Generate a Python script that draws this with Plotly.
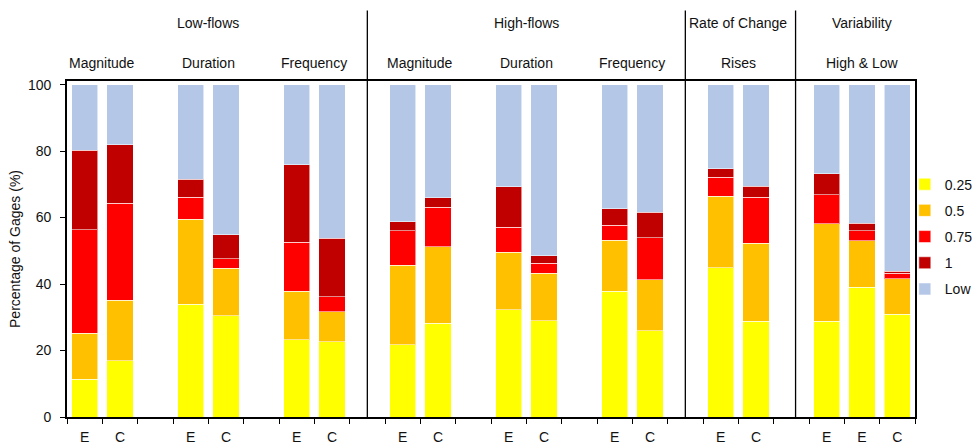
import plotly.graph_objects as go

# 24 slots along the x axis; empty strings are spacer slots between groups
slot_labels = ["E", "C", "", "E", "C", "", "E", "C", "",
               "E", "C", "", "E", "C", "", "E", "C", "",
               "E", "C", "", "E", "E", "C"]

# Percentage of gages in each alteration class (None = spacer slot)
pct_025 = [11.3, 17.0, None, 34.0, 30.5, None, 23.2, 22.7, None,
           21.8, 28.2, None, 32.2, 28.9, None, 37.9, 26.0, None,
           44.9, 28.8, None, 28.8, 39.1, 30.9]
pct_05 = [13.9, 18.1, None, 25.5, 14.3, None, 14.7, 8.9, None,
          23.8, 23.0, None, 17.3, 14.3, None, 15.3, 15.3, None,
          21.5, 23.5, None, 29.3, 14.0, 10.7]
pct_075 = [31.2, 29.2, None, 6.6, 2.8, None, 14.7, 4.6, None,
           10.5, 11.9, None, 7.6, 3.0, None, 4.5, 12.7, None,
           5.7, 13.8, None, 8.8, 3.0, 1.6]
pct_1 = [23.8, 17.6, None, 5.4, 7.2, None, 23.3, 17.6, None,
         2.6, 2.9, None, 12.2, 2.3, None, 5.0, 7.6, None,
         2.6, 3.4, None, 6.3, 2.2, 0.6]
pct_low = [19.8, 18.1, None, 28.5, 45.2, None, 24.1, 46.2, None,
           41.3, 34.0, None, 30.7, 51.5, None, 37.3, 38.4, None,
           25.3, 30.5, None, 26.8, 41.7, 56.2]

series = [("0.25", pct_025, "#FFFF00"),
          ("0.5", pct_05, "#FFC000"),
          ("0.75", pct_075, "#FF0000"),
          ("1", pct_1, "#C00000"),
          ("Low", pct_low, "#B4C7E7")]

# Header rows: (label, centre slot)
group_titles = [("Low-flows", 3.5), ("High-flows", 12.5),
                ("Rate of Change", 18.5), ("Variability", 22.0)]
sub_titles = [("Magnitude", 0.5), ("Duration", 3.5), ("Frequency", 6.5),
              ("Magnitude", 9.5), ("Duration", 12.5), ("Frequency", 15.5),
              ("Rises", 18.5), ("High & Low", 22.0)]
divider_slots = [8.0, 17.0, 20.12]

x = list(range(len(slot_labels)))
bar_x = [i for i, s in enumerate(slot_labels) if s]
bar_text = [s for s in slot_labels if s]

FONT = "Liberation Sans, Arial, sans-serif"

fig = go.Figure()
for name, vals, color in series:
    fig.add_trace(go.Bar(
        x=x, y=vals, name=name, width=0.74,
        legendgroup=name,
        marker=dict(color=color, line=dict(color="rgba(255,255,255,0.55)", width=1)),
    ))

annotations = []
for text, cx in group_titles:
    annotations.append(dict(x=cx, y=1.173, xref="x", yref="paper", text=text,
                            yanchor="middle", xanchor="center",
                            showarrow=False, font=dict(size=14, color="#111")))
for text, cx in sub_titles:
    annotations.append(dict(x=cx, y=1.054, xref="x", yref="paper", text=text,
                            yanchor="middle", xanchor="center",
                            showarrow=False, font=dict(size=14, color="#111")))

shapes = [dict(type="line", xref="x", yref="paper", x0=d, x1=d, y0=0, y1=1.21,
               line=dict(color="black", width=1.3)) for d in divider_slots]

boundaries = [i - 0.5 for i in range(len(slot_labels) + 1)]

fig.update_layout(
    width=978, height=446,
    margin=dict(l=67, r=63, t=81, b=29.3, autoexpand=False),
    barmode="stack", bargap=0.26,
    plot_bgcolor="white", paper_bgcolor="white",
    font=dict(family=FONT, size=14, color="#111"),
    showlegend=True,
    legend=dict(x=0.988, xanchor="left", y=0.537, yanchor="middle",
                traceorder="grouped", tracegroupgap=5,
                font=dict(size=14, color="#111"), bgcolor="rgba(0,0,0,0)",
                itemwidth=30),
    annotations=annotations,
    shapes=shapes,
    xaxis=dict(range=[-0.5, len(slot_labels) - 0.5],
               tickmode="array", tickvals=bar_x, ticktext=bar_text,
               ticks="", showgrid=False, zeroline=False,
               showline=True, linecolor="black", linewidth=1.6, mirror=True,
               tickfont=dict(size=14, color="#111"), ticklabelstandoff=6,
               minor=dict(tickmode="array", tickvals=boundaries, ticks="outside",
                          ticklen=5, tickcolor="black", tickwidth=1, showgrid=False)),
    yaxis=dict(range=[0, 101.1], tickmode="array",
               tickvals=[0, 20, 40, 60, 80, 100],
               ticks="outside", ticklen=5, tickcolor="black", tickwidth=1,
               showgrid=False, zeroline=False,
               showline=True, linecolor="black", linewidth=1.6, mirror=True,
               tickfont=dict(size=14, color="#111"), ticklabelstandoff=6,
               title=dict(text="Percentage of Gages (%)", font=dict(size=14, color="#111"),
                          standoff=4)),
)

fig.write_html("out.html")
